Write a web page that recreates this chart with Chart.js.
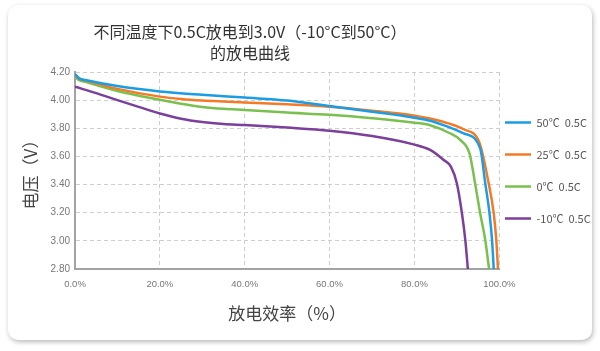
<!DOCTYPE html>
<html>
<head>
<meta charset="utf-8">
<script src="https://cdn.jsdelivr.net/npm/chart.js@4"></script>
<style>
  html, body { margin: 0; padding: 0; background: #fff; }
  .wrap { position: relative; width: 600px; height: 351px; overflow: hidden; }
  .card {
    position: absolute; left: 8px; top: 5px; width: 584px; height: 335px;
    background: #fff; border-radius: 10px;
    box-shadow: 1px 2px 5px rgba(0, 0, 0, 0.28);
  }
  canvas { position: absolute; left: 0; top: 0; }
</style>
</head>
<body>
<div class="wrap">
  <div class="card"></div>
  <canvas id="chart" width="600" height="351"></canvas>
</div>
<script>
const titleLines = ['不同温度下0.5C放电到3.0V（-10°C到50°C）', '的放电曲线'];
const seriesNames = ['50℃  0.5C', '25℃  0.5C', '0℃  0.5C', '-10℃  0.5C'];
const seriesColors = ['#1a9de3', '#f47a25', '#79c04e', '#7b3f9c'];

// discharge efficiency (%) and voltage (V) for each temperature
const eff50 = [0, 1, 3, 10, 20, 30, 40, 50, 60, 70, 80, 83.7, 88, 91.6, 95.5, 96.7, 97.7, 98.3, 98.7];
const volt50 = [4.185, 4.155, 4.14, 4.1, 4.062, 4.038, 4.018, 3.997, 3.958, 3.918, 3.875, 3.854, 3.81, 3.764, 3.657, 3.409, 3.196, 3.006, 2.80];

const eff25 = [0, 1, 3, 10, 20, 25, 30, 35, 40, 50, 60, 70, 80, 83.7, 88, 91.6, 95.3, 97.5, 98.7, 99.3, 99.7];
const volt25 = [4.174, 4.152, 4.135, 4.08, 4.025, 4.008, 3.997, 3.99, 3.984, 3.97, 3.953, 3.925, 3.89, 3.87, 3.835, 3.793, 3.70, 3.409, 3.196, 3.006, 2.80];

const eff0 = [0, 1, 3, 10, 20, 25, 30, 35, 40, 50, 60, 70, 80, 83.7, 88, 90.8, 93, 94.3, 95.5, 96.7, 97.6];
const volt0 = [4.163, 4.142, 4.125, 4.065, 4.003, 3.975, 3.952, 3.938, 3.93, 3.912, 3.896, 3.872, 3.84, 3.822, 3.77, 3.717, 3.62, 3.409, 3.196, 3.006, 2.80];

const effM10 = [0, 5, 10, 15, 20, 25, 30, 35, 40, 50, 60, 70, 80, 83.7, 86.9, 88.6, 90, 91.2, 92, 92.6];
const voltM10 = [4.095, 4.05, 4.0, 3.952, 3.905, 3.868, 3.845, 3.831, 3.823, 3.805, 3.783, 3.745, 3.684, 3.646, 3.575, 3.527, 3.409, 3.196, 3.006, 2.80];

const xTitle = '放电效率（%）';
const yTitle = '电压（V）';

const effs = [eff50, eff25, eff0, effM10];
const volts = [volt50, volt25, volt0, voltM10];

const datasets = seriesNames.map((name, i) => ({
  label: name,
  data: effs[i].map((x, j) => ({ x: x, y: volts[i][j] })),
  borderColor: seriesColors[i],
  backgroundColor: seriesColors[i],
  borderWidth: 2.5,
  pointRadius: 0,
  cubicInterpolationMode: 'monotone',
  fill: false,
}));

const cjk = '"Noto Sans CJK SC", "Noto Sans", sans-serif';
const tickFont = '"Liberation Sans", Arial, sans-serif';

// nudge title and legend into the spots they have in the picture
const placeBlocks = {
  id: 'placeBlocks',
  afterLayout(chart) {
    const t = chart.titleBlock;
    if (t) { t.left = 0; t.right = 500; }
    const lg = chart.legend;
    if (lg) {
      const w = lg.right - lg.left;
      lg.left = 505 - lg.options.labels.padding;
      lg.right = lg.left + w;
    }
  }
};

new Chart(document.getElementById('chart'), {
  type: 'line',
  data: { datasets: datasets },
  plugins: [placeBlocks],
  options: {
    responsive: false,
    animation: false,
    layout: { padding: { left: 10, right: -16, top: 0, bottom: 10 } },
    plugins: {
      title: {
        display: true,
        text: titleLines,
        color: '#333',
        font: { family: cjk, size: 16, weight: 'normal', lineHeight: 1.3125 },
        padding: { top: 21.5, bottom: 8.5 },
      },
      legend: {
        position: 'right',
        labels: {
          usePointStyle: true,
          pointStyle: 'line',
          pointStyleWidth: 26,
          padding: 21,
          color: '#555',
          font: { family: cjk, size: 11 },
        },
      },
      tooltip: { enabled: false },
    },
    scales: {
      x: {
        type: 'linear',
        min: 0,
        max: 100,
        afterFit: (s) => { s.height = 72; },
        ticks: {
          stepSize: 20,
          padding: 10,
          color: '#777',
          font: { family: tickFont, size: 9.5 },
          maxRotation: 0,
          callback: (v) => v.toFixed(1) + '%',
        },
        grid: { color: '#cfcfcf', lineWidth: 1, drawTicks: false },
        border: { color: '#a3a3a3', width: 2, dash: [4, 3] },
        title: {
          display: true,
          text: xTitle,
          color: '#444',
          font: { family: cjk, size: 17 },
          padding: { top: 0, bottom: 17 },
        },
      },
      y: {
        min: 2.8,
        max: 4.2,
        afterFit: (s) => { s.width = 65; },
        ticks: {
          stepSize: 0.2,
          padding: 5,
          color: '#777',
          font: { family: tickFont, size: 10 },
          callback: (v) => v.toFixed(2),
        },
        grid: { color: '#cfcfcf', lineWidth: 1, drawTicks: false },
        border: { color: '#a3a3a3', width: 2, dash: [4, 3] },
        title: {
          display: true,
          text: yTitle,
          color: '#444',
          font: { family: cjk, size: 17 },
          padding: { top: 10, bottom: 0 },
        },
      },
    },
  },
});
</script>
</body>
</html>
